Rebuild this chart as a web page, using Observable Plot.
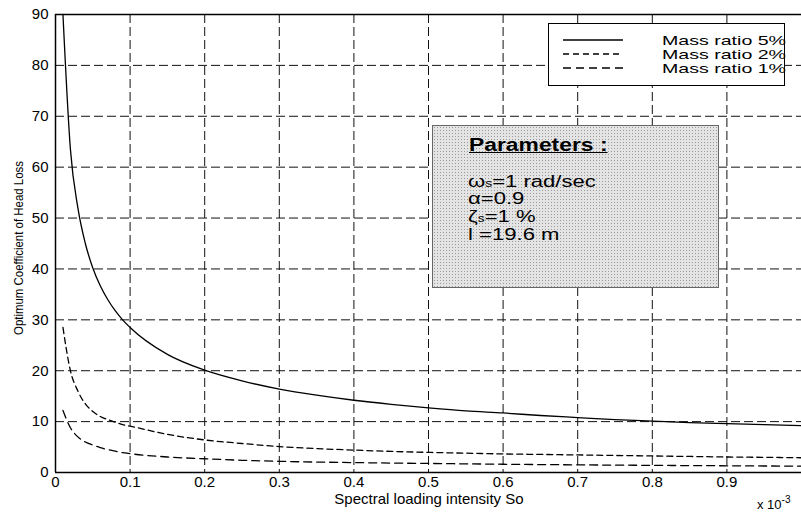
<!DOCTYPE html>
<html><head><meta charset="utf-8">
<script src="https://cdn.jsdelivr.net/npm/d3@7"></script>
<script src="https://cdn.jsdelivr.net/npm/@observablehq/plot@0.6"></script>
<style>
body{margin:0;background:#fff;}
#wrap{position:relative;width:801px;height:512px;font-family:"Liberation Sans",Arial,sans-serif;color:#000;overflow:hidden;}
.ov{position:absolute;white-space:nowrap;}
#legend{position:absolute;left:548px;top:23px;width:235px;height:61px;background:#fff;border:1px solid #000;}
#params{position:absolute;left:432px;top:125px;width:285px;height:161px;border:1px solid #666;
 background-color:#e4e4e4;background-image:radial-gradient(#9a9a9a 0.6px,transparent 0.9px);background-size:3px 3px;}
</style></head>
<body><div id="wrap"></div>
<script>
const xs = [0.01,0.02,0.03,0.04,0.05,0.06,0.07,0.08,0.09,0.1,0.15,0.2,0.25,0.3,0.35,0.4,0.45,0.5,0.55,0.6,0.65,0.7,0.75,0.8,0.85,0.9,0.95,1.0];
const mass5 = [90,63.5,52,45,40.2,36.7,34,31.8,30,28.5,23.2,20.1,18,16.4,15.2,14.2,13.4,12.7,12.1,11.7,11.2,10.8,10.4,10.1,9.8,9.6,9.4,9.2];
const mass2 = [28.5,20,16,13.5,12,11,10.4,9.9,9.4,9.1,7.5,6.4,5.7,5.1,4.7,4.4,4.15,3.95,3.8,3.65,3.55,3.45,3.35,3.25,3.15,3.05,2.98,2.9];
const mass1 = [12.2,8.8,7,6,5.4,4.9,4.5,4.2,3.9,3.7,3.05,2.7,2.4,2.2,2.05,1.95,1.85,1.78,1.7,1.62,1.56,1.5,1.45,1.4,1.36,1.32,1.28,1.25];
const seriesNames = ["Mass ratio 5%","Mass ratio 2%","Mass ratio 1%"];
const xTicks = [0,0.1,0.2,0.3,0.4,0.5,0.6,0.7,0.8,0.9];
const yTicks = [0,10,20,30,40,50,60,70,80,90];
const dashes = [null,"6,4","8,5"];

const series = [mass5,mass2,mass1];
const rows = series.map(s => xs.map((x,i)=>({x, y:s[i]})));

const chart = Plot.plot({
  width: 801, height: 512,
  marginLeft: 55, marginRight: 0, marginTop: 14, marginBottom: 40,
  style: {fontFamily: '"Liberation Sans",Arial,sans-serif', fontSize: "15px", background: "#fff", color: "#000"},
  x: {domain: [0,1]},
  y: {domain: [0,90]},
  marks: [
    Plot.gridX(xTicks.slice(1), {stroke:"#111", strokeOpacity:1, strokeWidth:1, strokeDasharray:"9,4"}),
    Plot.gridY(yTicks.slice(1,-1), {stroke:"#111", strokeOpacity:1, strokeWidth:1, strokeDasharray:"9,4"}),
    Plot.ruleX([0], {stroke:"#000", strokeWidth:1.5}),
    Plot.ruleY([0, 90], {stroke:"#000", strokeWidth:1.5}),
    Plot.axisX({ticks: xTicks, tickSize: 0, tickPadding: 4, label: null,
      tickFormat: d => d === 0 ? "0" : d3.format(".1f")(d), fontSize: 15}),
    Plot.axisY({ticks: yTicks, tickSize: 0, tickPadding: 7, label: null, fontSize: 15}),
    ...rows.map((r,k) => Plot.line(r, {x:"x", y:"y", stroke:"#000", strokeWidth:1.3, strokeDasharray: dashes[k], curve:"monotone-x"}))
  ]
});
const wrap = document.getElementById("wrap");
wrap.appendChild(chart);

function add(html, css){ const d=document.createElement("div"); d.className="ov"; d.innerHTML=html; Object.assign(d.style,css); wrap.appendChild(d); return d; }

add("Optimum Coefficient of Head Loss", {left:"18px", top:"248px", fontSize:"13px", transform:"translate(-50%,-50%) rotate(-90deg) scaleX(0.88)", fontFamily:'"Liberation Sans Narrow","Liberation Sans",Arial,sans-serif'});
add("Spectral loading intensity So", {left:"429px", top:"498px", fontSize:"15px", lineHeight:"1", transform:"translate(-50%,-50%)"});
add('x 10<sup style="font-size:10px;vertical-align:6px">-3</sup>', {left:"757px", top:"494px", fontSize:"13px"});

// legend box
const leg = document.createElement("div"); leg.id="legend"; wrap.appendChild(leg);
const legSvg = d3.select(leg).append("svg").attr("width",240).attr("height",61).style("position","absolute").style("left","0").style("top","0").style("overflow","visible");
seriesNames.forEach((n,k)=>{
  const yy = 16 + k*14;
  const ln = legSvg.append("line").attr("x1",14).attr("x2",74).attr("y1",yy).attr("y2",yy).attr("stroke","#000").attr("stroke-width",1.3);
  if (dashes[k]) ln.attr("stroke-dasharray", dashes[k]);
  legSvg.append("text").attr("x",237).attr("y",yy+5).attr("text-anchor","end").attr("font-size",13.5)
    .attr("textLength",124).attr("lengthAdjust","spacingAndGlyphs")
    .attr("font-family",'"Liberation Sans",Arial,sans-serif').text(n);
});

// parameters box
const p = document.createElement("div"); p.id="params"; wrap.appendChild(p);
const pp = (html, top, css={}) => { const d=document.createElement("div"); d.className="ov"; d.innerHTML=html;
  Object.assign(d.style,{left:"35px", top:top+"px", fontSize:"16px", lineHeight:"1", transformOrigin:"0 50%", transform:"scaleX(1.38)"},css); p.appendChild(d); };
pp("Parameters :", 10, {fontWeight:"bold", textDecoration:"underline", fontSize:"18px", left:"36px", transform:"scaleX(1.27)"});
pp('ω<span style="font-size:10px">s</span>=1 rad/sec', 48);
pp("α=0.9", 65);
pp('ζ<span style="font-size:10px">s</span>=1 %', 83);
pp("l =19.6 m", 101);
</script></body></html>
